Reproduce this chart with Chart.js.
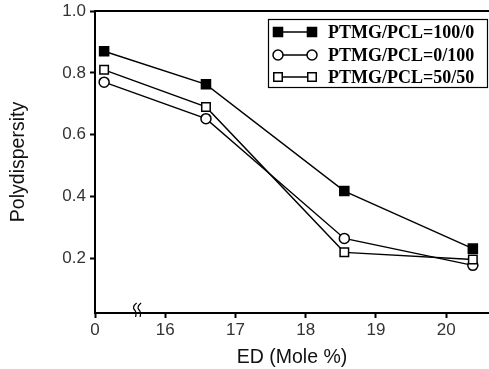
<!DOCTYPE html>
<html>
<head>
<meta charset="utf-8">
<script src="https://cdn.jsdelivr.net/npm/chart.js@4.4.0/dist/chart.umd.min.js"></script>
<style>
  html, body { margin: 0; padding: 0; background: #fff; }
  #wrap { width: 489px; height: 369px; }
</style>
</head>
<body>
<div id="wrap"><canvas id="myChart"></canvas></div>
<script>
"use strict";

// data ----------------------------------
const edValues = [0.13, 16.58, 18.55, 20.38];
const xTicks = [0, 16, 17, 18, 19, 20];
const yTicks = [0.2, 0.4, 0.6, 0.8, 1.0];
const seriesLabels = ["PTMG/PCL=100/0", "PTMG/PCL=0/100", "PTMG/PCL=50/50"];
const ptmg100 = [0.87, 0.763, 0.418, 0.232];
const pcl100 = [0.77, 0.652, 0.265, 0.178];
const blend50 = [0.81, 0.69, 0.22, 0.197];

// broken x axis: the 0 sits one unit before 16
const BREAK_SHIFT = 15;
function toAxis(v) { return v < 10 ? v + BREAK_SHIFT : v; }
function fromAxis(p) { return p < 15.5 ? p - BREAK_SHIFT : p; }

function points(vals) {
  return edValues.map((x, i) => ({ x: toAxis(x), y: vals[i] }));
}

const styles = [
  { pointStyle: "rect", radius: 6.4, fill: "#000" },
  { pointStyle: "circle", radius: 5, fill: "#fff" },
  { pointStyle: "rect", radius: 6, fill: "#fff" },
];
const seriesValues = [ptmg100, pcl100, blend50];

const datasets = seriesValues.map((vals, i) => ({
  label: seriesLabels[i],
  data: points(vals),
  borderColor: "#000",
  borderWidth: 1.4,
  backgroundColor: styles[i].fill,
  pointStyle: styles[i].pointStyle,
  pointRadius: styles[i].radius,
  pointBorderWidth: 1.5,
  pointBorderColor: "#000",
  pointBackgroundColor: styles[i].fill,
  order: 3 - i,
}));

const sans = "'Liberation Sans', Arial, sans-serif";

// top frame line, axis break mark and the boxed legend
const extras = {
  id: "extras",
  afterDraw(chart) {
    const ctx = chart.ctx;
    const area = chart.chartArea;
    const xs = chart.scales.x;
    ctx.save();
    ctx.strokeStyle = "#000";
    ctx.lineWidth = 2;
    ctx.beginPath();
    ctx.moveTo(area.left, area.top);
    ctx.lineTo(area.right, area.top);
    ctx.stroke();

    // break mark on x axis
    const bx = xs.getPixelForValue(15.6);
    const by = area.bottom;
    ctx.lineWidth = 1.2;
    [-2.5, 2].forEach((dx) => {
      ctx.beginPath();
      ctx.moveTo(bx + dx + 2, by - 10);
      ctx.quadraticCurveTo(bx + dx - 3, by - 6, bx + dx, by - 3);
      ctx.quadraticCurveTo(bx + dx + 2, by - 1, bx + dx + 1, by + 4);
      ctx.stroke();
    });

    // legend
    const box = { left: 268.5, top: 19.5, width: 219, height: 68 };
    ctx.fillStyle = "#fff";
    ctx.fillRect(box.left, box.top, box.width, box.height);
    ctx.lineWidth = 1.2;
    ctx.strokeRect(box.left, box.top, box.width, box.height);
    const rowY = [32, 55, 77];
    chart.data.datasets.forEach((ds, i) => {
      const y = rowY[i];
      ctx.lineWidth = 1.5;
      ctx.strokeStyle = "#000";
      ctx.beginPath();
      ctx.moveTo(278, y);
      ctx.lineTo(312, y);
      ctx.stroke();
      [278, 312].forEach((x) => {
        ctx.fillStyle = ds.pointBackgroundColor;
        ctx.beginPath();
        if (ds.pointStyle === "circle") {
          ctx.arc(x, y, ds.pointRadius, 0, Math.PI * 2);
        } else {
          const h = ds.pointRadius * Math.SQRT1_2;
          ctx.rect(x - h, y - h, 2 * h, 2 * h);
        }
        ctx.fill();
        ctx.stroke();
      });
      ctx.fillStyle = "#000";
      ctx.font = "bold 18px 'Liberation Serif', 'Times New Roman', serif";
      ctx.textBaseline = "middle";
      ctx.textAlign = "left";
      ctx.fillText(ds.label, 328, y + 1);
    });
    ctx.restore();
  },
};

const ctx = document.getElementById("myChart").getContext("2d");
const myChart = new Chart(ctx, {
  type: "line",
  data: { datasets: datasets },
  options: {
    responsive: true,
    maintainAspectRatio: false,
    animation: false,
    layout: { autoPadding: false, padding: { top: 11, right: 0, left: 0, bottom: 0 } },
    plugins: { legend: { display: false }, tooltip: { enabled: false } },
    scales: {
      x: {
        type: "linear",
        min: 15,
        max: 20.61,
        afterBuildTicks: (scale) => {
          scale.ticks = xTicks.map((v) => ({ value: toAxis(v) }));
        },
        afterFit: (scale) => {
          scale.height = 56;
          scale.paddingLeft = 0;
          scale.paddingRight = 0;
        },
        ticks: {
          callback: (value) => String(fromAxis(value)),
          color: "#333",
          font: { family: sans, size: 17 },
          padding: 2,
          maxRotation: 0,
        },
        grid: { drawOnChartArea: false, tickLength: 5, color: "#000", tickWidth: 2 },
        border: { color: "#000", width: 2 },
        title: {
          display: true,
          text: "ED (Mole %)",
          color: "#111",
          font: { family: sans, size: 19.5 },
          padding: { top: 0, bottom: 0 },
        },
      },
      y: {
        min: 0.024,
        max: 1.0,
        afterBuildTicks: (scale) => {
          scale.ticks = yTicks.map((v) => ({ value: v }));
        },
        afterFit: (scale) => {
          scale.width = 95;
          scale.paddingTop = 0;
          scale.paddingBottom = 0;
        },
        ticks: {
          callback: (value) => value.toFixed(1),
          color: "#333",
          font: { family: sans, size: 17 },
          padding: 4,
        },
        grid: { drawOnChartArea: false, tickLength: 5, color: "#000", tickWidth: 2 },
        border: { color: "#000", width: 2 },
        title: {
          display: true,
          text: "Polydispersity",
          color: "#111",
          font: { family: sans, size: 19.5 },
          padding: { top: 7, bottom: 0 },
        },
      },
    },
  },
  plugins: [extras],
});
</script>
</body>
</html>
